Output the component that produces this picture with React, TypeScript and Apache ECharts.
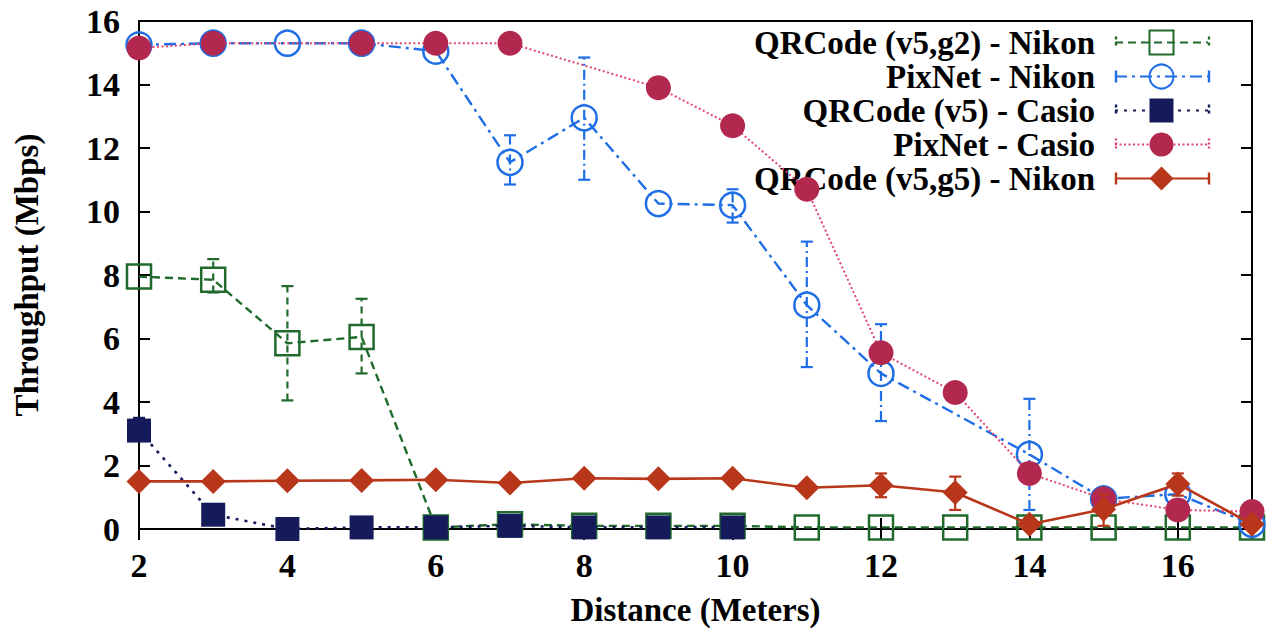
import React, { useEffect, useRef } from "react";
import * as echarts from "echarts";

const xTicks = { min: 2, max: 17, interval: 2 };
const yTicks = { min: 0, max: 16, interval: 2 };

const qrG2Name = "QRCode (v5,g2) - Nikon";
const qrG2X = [2, 3, 4, 5, 6, 7, 8, 9, 10, 11, 12, 13, 14, 15, 16, 17];
const qrG2Y = [7.95, 7.85, 5.85, 6.05, 0.05, 0.15, 0.1, 0.1, 0.1, 0.05, 0.05, 0.05, 0.05, 0.05, 0.05, 0.05];
const qrG2ErrX = [3, 4, 5];
const qrG2ErrLow = [7.45, 4.05, 4.9];
const qrG2ErrHigh = [8.5, 7.65, 7.25];

const pixNikonName = "PixNet - Nikon";
const pixNikonX = [2, 3, 4, 5, 6, 7, 8, 9, 10, 11, 12, 14, 15, 16, 17];
const pixNikonY = [15.25, 15.3, 15.3, 15.3, 15.05, 11.55, 12.95, 10.25, 10.2, 7.05, 4.9, 2.35, 0.95, 1.1, 0.15];
const pixNikonErrX = [7, 8, 10, 11, 12, 14];
const pixNikonErrLow = [10.85, 11.0, 9.65, 5.1, 3.4, 0.6];
const pixNikonErrHigh = [12.4, 14.85, 10.7, 9.05, 6.45, 4.1];

const qrCasioName = "QRCode (v5) - Casio";
const qrCasioX = [2, 3, 4, 5, 6, 7, 8, 9, 10];
const qrCasioY = [3.1, 0.45, 0.0, 0.05, 0.05, 0.1, 0.05, 0.05, 0.05];
const qrCasioErrX = [2];
const qrCasioErrLow = [2.8];
const qrCasioErrHigh = [3.5];

const pixCasioName = "PixNet - Casio";
const pixCasioX = [2, 3, 5, 6, 7, 9, 10, 11, 12, 13, 14, 15, 16, 17];
const pixCasioY = [15.15, 15.3, 15.3, 15.3, 15.3, 13.9, 12.7, 10.7, 5.55, 4.3, 1.75, 0.95, 0.6, 0.55];

const qrG5Name = "QRCode (v5,g5) - Nikon";
const qrG5X = [2, 3, 4, 5, 6, 7, 8, 9, 10, 11, 12, 13, 14, 15, 16, 17];
const qrG5Y = [1.5, 1.5, 1.52, 1.53, 1.55, 1.45, 1.6, 1.58, 1.6, 1.3, 1.38, 1.15, 0.15, 0.62, 1.42, 0.15];
const qrG5ErrX = [11, 12, 13, 15, 16];
const qrG5ErrLow = [1.15, 1.0, 0.6, 0.1, 1.05];
const qrG5ErrHigh = [1.45, 1.75, 1.65, 1.1, 1.75];

const FONT = "'Liberation Serif', 'Times New Roman', serif";

const GREEN = "#1f6a2c";
const BLUE = "#1f6ee6";
const NAVY = "#141a5a";
const CRIMSON = "#b3284f";
const PINK = "#e0456f";
const RUST = "#b8361a";

function pairs(xs: number[], ys: number[]) {
  return xs.map((x, i) => [x, ys[i]]);
}

function errorBars(name: string, xs: number[], lows: number[], highs: number[], color: string, dash: number[] | null, z: number) {
  return {
    type: "custom",
    name,
    xAxisIndex: 0,
    yAxisIndex: 0,
    z,
    silent: true,
    data: xs.map((x, i) => [x, lows[i], highs[i]]),
    encode: { x: 0, y: [1, 2] },
    renderItem: (_params: any, api: any) => {
      const lo = api.coord([api.value(0), api.value(1)]);
      const hi = api.coord([api.value(0), api.value(2)]);
      const w = 6;
      const cap = { stroke: color, lineWidth: 2.2 };
      const bar: any = { stroke: color, lineWidth: 2.2 };
      if (dash) bar.lineDash = dash;
      return {
        type: "group",
        children: [
          { type: "line", shape: { x1: lo[0], y1: lo[1], x2: hi[0], y2: hi[1] }, style: bar },
          { type: "line", shape: { x1: lo[0] - w, y1: lo[1], x2: lo[0] + w, y2: lo[1] }, style: cap },
          { type: "line", shape: { x1: hi[0] - w, y1: hi[1], x2: hi[0] + w, y2: hi[1] }, style: cap },
        ],
      };
    },
  };
}

// legend layout (row centres / line ends in pixels)
const LEG_TOP = 26;
const LEG_ROW = 34;
const LEG_X1 = 1116;
const LEG_X2 = 1209;
const legendColors = [GREEN, BLUE, NAVY, PINK, RUST];
const legendCapDash: (number[] | null)[] = [[3, 3], null, [3, 3], [2, 2], null];

export default function App() {
  const ref = useRef<HTMLDivElement>(null);
  useEffect(() => {
    if (!ref.current) return;
    const chart = echarts.init(ref.current, undefined, { renderer: "svg" });
    const axisLine = { show: true, lineStyle: { color: "#000", width: 2 } };
    const tick = { show: true, inside: true, length: 11, lineStyle: { color: "#000", width: 2 } };
    const labelStyle = { fontFamily: FONT, fontWeight: "bold" as const, fontSize: 34, color: "#000" };
    const caps: any[] = [];
    legendColors.forEach((c, i) => {
      const cy = LEG_TOP + 16.5 + i * LEG_ROW;
      [LEG_X1, LEG_X2].forEach((x) => {
        const style: any = { stroke: c, lineWidth: 2.4 };
        if (legendCapDash[i]) style.lineDash = legendCapDash[i];
        caps.push({ type: "line", silent: true, z: 100, shape: { x1: x, y1: cy - 6, x2: x, y2: cy + 6 }, style });
      });
    });
    const option: any = {
      animation: false,
      backgroundColor: "#fff",
      grid: { left: 139, right: 19, top: 21, bottom: 105, show: true, borderColor: "#000", borderWidth: 2 },
      xAxis: [
        {
          type: "value", ...xTicks, position: "bottom",
          axisLine, axisTick: tick, splitLine: { show: false },
          axisLabel: { ...labelStyle, margin: 19, showMaxLabel: false },
          name: "Distance (Meters)", nameLocation: "middle", nameGap: 64,
          nameTextStyle: { fontFamily: FONT, fontWeight: "bold", fontSize: 33, color: "#000" },
        },
        {
          type: "value", ...xTicks, position: "top",
          axisLine, axisTick: tick, splitLine: { show: false }, axisLabel: { show: false },
        },
      ],
      yAxis: [
        {
          type: "value", ...yTicks, position: "left",
          axisLine, axisTick: tick, splitLine: { show: false },
          axisLabel: { ...labelStyle, margin: 19 },
          name: "Throughput (Mbps)", nameLocation: "middle", nameGap: 96,
          nameTextStyle: { fontFamily: FONT, fontWeight: "bold", fontSize: 33, color: "#000" },
        },
        {
          type: "value", ...yTicks, position: "right",
          axisLine, axisTick: tick, splitLine: { show: false }, axisLabel: { show: false },
        },
      ],
      legend: {
        orient: "vertical",
        right: 1271 - LEG_X2,
        top: LEG_TOP,
        padding: 0,
        align: "right",
        itemWidth: LEG_X2 - LEG_X1,
        itemHeight: 30,
        itemGap: 1,
        selectedMode: false,
        data: [qrG2Name, pixNikonName, qrCasioName, pixCasioName, qrG5Name],
        textStyle: { fontFamily: FONT, fontWeight: "bold", fontSize: 33, color: "#000", padding: [0, 15, 0, 0] },
      },
      graphic: caps,
      series: [
        errorBars("err-g2", qrG2ErrX, qrG2ErrLow, qrG2ErrHigh, GREEN, [7, 5], 2),
        {
          type: "line", name: qrG2Name, data: pairs(qrG2X, qrG2Y), z: 2,
          symbol: "rect", symbolSize: 24, showAllSymbol: true,
          lineStyle: { color: GREEN, width: 2.4, type: [8, 5] },
          itemStyle: { color: "rgba(255,255,255,0)", borderColor: GREEN, borderWidth: 2.5 },
        },
        errorBars("err-pn", pixNikonErrX, pixNikonErrLow, pixNikonErrHigh, BLUE, [10, 4, 2, 4], 3),
        {
          type: "line", name: pixNikonName, data: pairs(pixNikonX, pixNikonY), z: 3,
          symbol: "circle", symbolSize: 25, showAllSymbol: true,
          lineStyle: { color: BLUE, width: 2.4, type: [12, 5, 3, 5] },
          itemStyle: { color: "rgba(255,255,255,0)", borderColor: BLUE, borderWidth: 2.5 },
        },
        errorBars("err-qc", qrCasioErrX, qrCasioErrLow, qrCasioErrHigh, NAVY, [3, 4], 4),
        {
          type: "line", name: qrCasioName, data: pairs(qrCasioX, qrCasioY), z: 4,
          symbol: "rect", symbolSize: 24, showAllSymbol: true,
          lineStyle: { color: NAVY, width: 2.6, type: [3, 6] },
          itemStyle: { color: NAVY, borderColor: NAVY, borderWidth: 0 },
        },
        {
          type: "line", name: pixCasioName, data: pairs(pixCasioX, pixCasioY), z: 5,
          symbol: "circle", symbolSize: 25, showAllSymbol: true,
          lineStyle: { color: PINK, width: 2, type: [2, 2.5] },
          itemStyle: { color: CRIMSON, borderWidth: 0 },
        },
        errorBars("err-g5", qrG5ErrX, qrG5ErrLow, qrG5ErrHigh, RUST, null, 6),
        {
          type: "line", name: qrG5Name, data: pairs(qrG5X, qrG5Y), z: 6,
          symbol: "diamond", symbolSize: [25, 25], showAllSymbol: true,
          lineStyle: { color: RUST, width: 2.6, type: "solid" },
          itemStyle: { color: RUST, borderWidth: 0 },
        },
      ],
    };
    chart.setOption(option);
    return () => chart.dispose();
  }, []);
  return <div ref={ref} style={{ position: "fixed", left: 0, top: 0, width: 1271, height: 634 }} />;
}
